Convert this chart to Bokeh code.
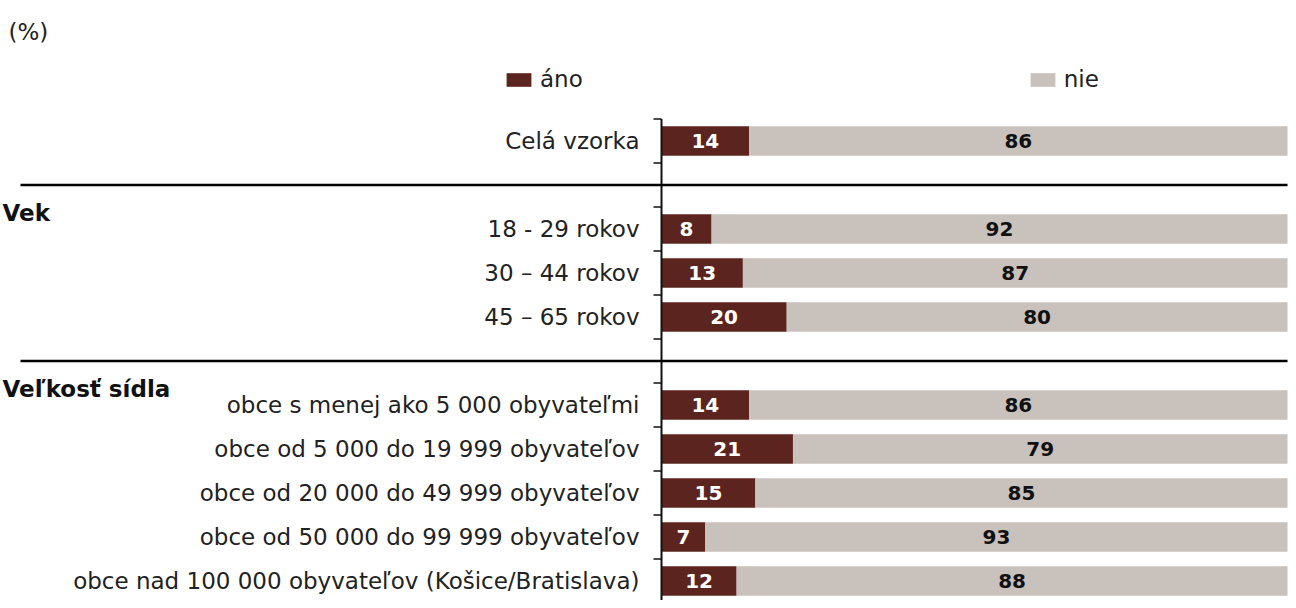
from bokeh.plotting import figure
from bokeh.models import Range1d, Legend, LegendItem, ColumnDataSource
from bokeh.core.properties import value
from bokeh.embed import file_html
from bokeh.resources import INLINE

# ---------------- data ----------------
unit_label = "(%)"
legend_labels = ["áno", "nie"]
groups = ["", "Vek", "Veľkosť sídla"]
group_sizes = [1, 3, 5]
categories = [
    "Celá vzorka",
    "18 - 29 rokov",
    "30 – 44 rokov",
    "45 – 65 rokov",
    "obce s menej ako 5 000 obyvateľmi",
    "obce od 5 000 do 19 999 obyvateľov",
    "obce od 20 000 do 49 999 obyvateľov",
    "obce od 50 000 do 99 999 obyvateľov",
    "obce nad 100 000 obyvateľov (Košice/Bratislava)",
]
ano = [14, 8, 13, 20, 14, 21, 15, 7, 12]
nie = [86, 92, 87, 80, 86, 79, 85, 93, 88]

# ---------------- style ----------------
ANO_COLOR = "#5c241f"
NIE_COLOR = "#c9c1bb"
FONT = "DejaVu Sans"
LABEL_SIZE = "23px"
VALUE_SIZE = "20px"

W, H = 1288, 600
AXIS_SX = 661               # axis position inside the canvas
BAR_END_SX = 1287           # where 100 % ends
PX_PER_UNIT = (BAR_END_SX - AXIS_SX) / 100.0
ROW_PX = 44.0
TOP_SY = 118.5              # first row boundary inside the canvas
BAR_H = 29.5 / ROW_PX

# ---------------- layout of rows ----------------
row_y, heading_y, sep_y = [], [], []
r = 0
for gi, n in enumerate(group_sizes):
    if gi > 0:
        sep_y.append(r + 0.5)
        r += 1
    heading_y.append(r)
    for _ in range(n):
        row_y.append(r + 0.5)
        r += 1
n_rows = r
boundaries = list(range(n_rows + 1))

x_start = -AXIS_SX / PX_PER_UNIT
x_end = (W - AXIS_SX) / PX_PER_UNIT
y_top = -TOP_SY / ROW_PX
y_bottom = (H - TOP_SY) / ROW_PX

p = figure(width=W, height=H, output_backend="svg", toolbar_location=None,
           x_range=Range1d(x_start, x_end), y_range=Range1d(y_bottom, y_top),
           x_axis_type=None, y_axis_type=None,
           min_border=0, min_border_left=0, min_border_right=0,
           min_border_top=0, min_border_bottom=0)
p.outline_line_color = None
p.grid.visible = False
p.background_fill_color = "white"
p.border_fill_color = "white"

src = ColumnDataSource(dict(
    y=row_y,
    ano=ano,
    nie=nie,
    total=[a + b for a, b in zip(ano, nie)],
    ano_mid=[a / 2 for a in ano],
    nie_mid=[a + b / 2 for a, b in zip(ano, nie)],
    ano_txt=[str(a) for a in ano],
    nie_txt=[str(b) for b in nie],
    cat=categories,
))

r_ano = p.hbar(y="y", left=0, right="ano", height=BAR_H, source=src,
               fill_color=ANO_COLOR, line_color=None)
r_nie = p.hbar(y="y", left="ano", right="total", height=BAR_H, source=src,
               fill_color=NIE_COLOR, line_color=None)

p.text(x="ano_mid", y="y", text="ano_txt", source=src,
       text_align="center", text_baseline="middle",
       text_font=value(FONT), text_font_style="bold",
       text_font_size=VALUE_SIZE, text_color="white")
p.text(x="nie_mid", y="y", text="nie_txt", source=src,
       text_align="center", text_baseline="middle",
       text_font=value(FONT), text_font_style="bold",
       text_font_size=VALUE_SIZE, text_color="#111111")

# category labels (left of the axis)
p.text(x=0, y="y", text="cat", source=src, x_offset=-22,
       text_align="right", text_baseline="middle",
       text_font=value(FONT), text_font_size=LABEL_SIZE, text_color="#222222")

# axis line and boundary ticks
p.segment(x0=0, y0=boundaries[0], x1=0, y1=boundaries[-1],
          line_color="#111111", line_width=2)
p.ray(x=[0] * len(boundaries), y=boundaries, length=8, length_units="screen",
      angle=3.14159265, line_color="#111111", line_width=1.5)

# group separators
sep_x0 = (20 - AXIS_SX) / PX_PER_UNIT
p.segment(x0=[sep_x0] * len(sep_y), y0=sep_y, x1=[100] * len(sep_y), y1=sep_y,
          line_color="#000000", line_width=2.5)

# group headings
hx = [x_start + 2 / PX_PER_UNIT] * len(groups)
p.text(x=hx, y=[h + 0.13 for h in heading_y], text=groups,
       text_align="left", text_baseline="middle",
       text_font=value(FONT), text_font_style="bold",
       text_font_size=LABEL_SIZE, text_color="#111111")

# unit label
p.text(x=[x_start + 8 / PX_PER_UNIT], y=[(31 - TOP_SY) / ROW_PX], text=[unit_label],
       text_align="left", text_baseline="middle",
       text_font=value(FONT), text_font_size=LABEL_SIZE, text_color="#222222")

legend = Legend(items=[LegendItem(label=legend_labels[0], renderers=[r_ano]),
                       LegendItem(label=legend_labels[1], renderers=[r_nie])],
                orientation="horizontal", location=(503, 508),
                spacing=444, glyph_width=31, glyph_height=17, label_standoff=6,
                label_text_font=FONT, label_text_font_size=LABEL_SIZE,
                label_text_color="#222222",
                border_line_color=None, background_fill_alpha=0,
                padding=0, margin=0)
p.add_layout(legend)

open("out.html", "w").write(file_html(p, INLINE))
